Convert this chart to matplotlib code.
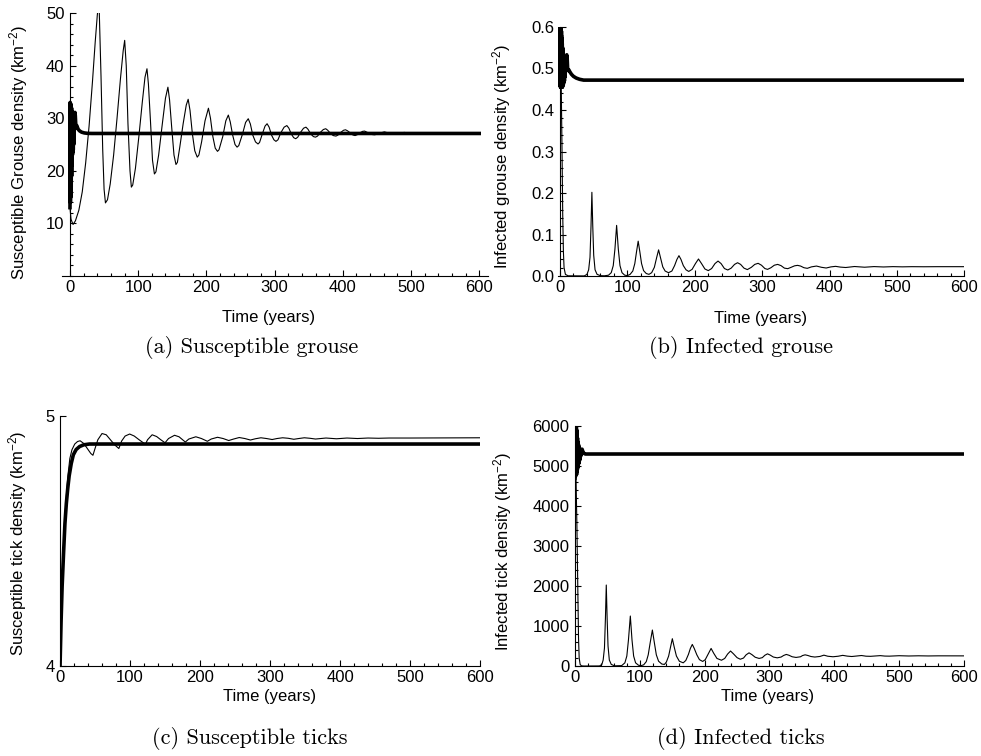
import numpy as np
import matplotlib
matplotlib.use("Agg")
import matplotlib.pyplot as plt
from matplotlib.ticker import MultipleLocator, FormatStrFormatter, FixedLocator

plt.rcParams['font.family'] = ['Liberation Sans', 'DejaVu Sans']
plt.rcParams['mathtext.fontset'] = 'custom'
plt.rcParams['mathtext.rm'] = 'Liberation Sans'
plt.rcParams['mathtext.it'] = 'Liberation Sans:italic'
plt.rcParams['mathtext.bf'] = 'Liberation Sans:bold'

# (a) susceptible grouse, (time, density)
sg_thin = [(0, 13.0), (1.5, 10.8), (4.5, 9.8), (8, 10.5), (13, 12.5), (18, 16), (23, 21.5), (28, 28.5),
           (33, 37), (37, 44.5), (40, 49.5), (41.5, 51.5), (43, 50), (45.5, 38), (48, 24), (50, 16.5),
           (52, 13.9), (55, 14.5), (59, 17.5), (64, 23), (69, 30), (74, 37.5), (78, 42.8), (80.2, 44.8),
           (82.5, 40), (85, 29), (88, 20), (90, 16.9), (92, 17.3), (96, 20.5), (101, 26.5), (106, 33),
           (110, 37.8), (112.9, 39.4), (115, 36.5), (118, 29.5), (121, 22), (123.8, 19.4), (126, 19.8),
           (130, 23), (135, 28.5), (140, 33.8), (143.6, 35.9), (146, 33.5), (149, 28.5), (152.5, 23),
           (155.4, 21.2), (157.5, 21.6), (161, 24.5), (166, 29), (170.5, 32.5), (173.3, 33.6), (176, 31.5),
           (179.5, 27), (183, 23.8), (186.6, 22.6), (189, 23), (193, 25.5), (198, 29.5), (203, 31.9),
           (206, 30), (209.5, 26.5), (213, 24.3), (216.3, 23.7), (218.5, 24), (224, 26.5), (228.5, 29.5),
           (232.2, 30.6), (235, 29.3), (238.5, 26.8), (242, 25), (245, 24.5), (247.5, 24.8), (253, 27),
           (257.5, 29.2), (261.4, 29.9), (264.5, 28.9), (268, 26.8), (272, 25.5), (275.7, 25.1), (278, 25.4),
           (282, 27), (286, 28.5), (289, 28.95), (292, 28.3), (295.5, 26.8), (299, 25.9), (302, 25.6),
           (305, 25.9), (309, 27.2), (314, 28.3), (318, 28.6), (321, 28.1), (324.5, 27), (328, 26.3),
           (331, 26.1), (334, 26.4), (338, 27.3), (342.5, 28.1), (346, 28.3), (349, 27.9), (353, 27),
           (357, 26.5), (360, 26.4), (363, 26.6), (367, 27.3), (371.5, 27.85), (375, 28.0), (378, 27.7),
           (382, 27.1), (386, 26.7), (390, 26.6), (393, 26.8), (397, 27.3), (401, 27.7), (404, 27.8),
           (407, 27.6), (411, 27.2), (415, 26.8), (418, 26.7), (421, 26.85), (425, 27.2), (429, 27.5),
           (432, 27.55), (436, 27.3), (440, 27.0), (444, 26.88), (447, 26.85), (454, 27.15), (461, 27.4),
           (468, 27.15), (476, 26.95), (483, 27.1), (490, 27.3), (497, 27.15), (505, 27.0), (512, 27.12),
           (519, 27.25), (526, 27.15), (534, 27.05), (541, 27.12), (548, 27.2), (556, 27.14), (563, 27.08),
           (570, 27.12), (577, 27.16), (585, 27.12), (592, 27.1), (600, 27.12)]
sg_thick = [(0, 13), (0.3, 33), (0.6, 14), (0.9, 32.8), (1.2, 15), (1.5, 32.5), (1.8, 17), (2.1, 32),
            (2.4, 19), (2.7, 31.5), (3.0, 21), (3.3, 31), (3.6, 23), (3.9, 30.5), (4.2, 23.5), (4.5, 30),
            (4.8, 24), (5.1, 29.5), (5.4, 25), (5.8, 29), (6.2, 28.5), (6.8, 30.5), (7.3, 31.1), (7.8, 30.5),
            (8.4, 29), (9.2, 28.2), (10, 28.6), (10.8, 28.3), (12, 27.9), (14, 27.6), (17, 27.35),
            (21, 27.2), (26, 27.12), (32, 27.1), (600, 27.1)]

# (b) infected grouse
ig_thin = [(0, 0.62), (1.5, 0.5), (3, 0.3), (4, 0.15), (5, 0.06), (6, 0.02), (8, 0.004), (12, 0.0005),
           (36, 0.0002), (40, 0.004), (42.5, 0.015), (44.5, 0.045), (46, 0.12), (47.3, 0.2017), (48.6, 0.12),
           (50, 0.05), (52, 0.015), (55, 0.004), (60, 0.0008), (66, 0.0005), (72, 0.002), (76, 0.008),
           (79, 0.025), (81.5, 0.065), (84, 0.122), (86.5, 0.065), (89, 0.025), (92, 0.008), (96, 0.002),
           (100, 0.001), (104, 0.004), (108, 0.012), (111, 0.03), (113.5, 0.058), (116, 0.084),
           (118.5, 0.058), (121, 0.03), (124, 0.013), (128, 0.006), (132, 0.004), (136, 0.008),
           (140, 0.021), (143.5, 0.045), (146.3, 0.063), (149, 0.045), (152.5, 0.022), (156, 0.012),
           (161, 0.008), (166, 0.012), (170, 0.025), (173.5, 0.04), (176.5, 0.049), (179.5, 0.04),
           (183, 0.025), (187, 0.015), (191, 0.011), (196, 0.016), (201, 0.03), (205.5, 0.041),
           (210, 0.03), (215, 0.017), (220, 0.013), (225, 0.018), (230, 0.03), (234.5, 0.036),
           (239, 0.03), (244, 0.018), (249, 0.0145), (254, 0.019), (259, 0.028), (263.5, 0.032),
           (268, 0.028), (273, 0.019), (278, 0.0155), (284, 0.021), (289, 0.028), (294, 0.0306),
           (299, 0.026), (304, 0.018), (308, 0.016), (313, 0.02), (318, 0.026), (323, 0.028), (328, 0.025),
           (333, 0.019), (338, 0.0177), (343, 0.021), (348, 0.0245), (352.5, 0.0257), (357, 0.024),
           (362, 0.02), (367, 0.0185), (373, 0.022), (380.6, 0.024), (388, 0.021), (395, 0.0193),
           (402, 0.022), (409, 0.0233), (416, 0.0215), (424, 0.0205), (437, 0.0229), (452, 0.0212),
           (466, 0.0227), (480, 0.0218), (494, 0.0226), (508, 0.0221), (522, 0.0225), (540, 0.0223),
           (560, 0.0225), (600, 0.0225)]
ig_thick = [(0, 0.46), (0.3, 0.61), (0.6, 0.455), (0.9, 0.61), (1.2, 0.455), (1.5, 0.6), (1.8, 0.455),
            (2.1, 0.59), (2.4, 0.455), (2.7, 0.575), (3.0, 0.455), (3.3, 0.56), (3.6, 0.455), (3.9, 0.55),
            (4.2, 0.46), (4.5, 0.54), (4.8, 0.46), (5.2, 0.53), (5.6, 0.465), (6.0, 0.52), (6.5, 0.47),
            (7, 0.515), (7.5, 0.48), (8, 0.51), (8.7, 0.5), (9.4, 0.525), (10, 0.533), (10.6, 0.525),
            (11.3, 0.5), (12, 0.495), (13, 0.497), (14.6, 0.492), (17, 0.486), (20, 0.481), (24, 0.477),
            (29, 0.474), (35, 0.472), (600, 0.472)]

# (c) susceptible ticks
st_thin = [(0, 4.0), (2, 4.22), (4, 4.4), (6, 4.53), (8, 4.64), (10, 4.72), (12, 4.78), (14, 4.83),
           (17, 4.865), (21, 4.888), (25, 4.898), (28.7, 4.901), (34, 4.89), (40, 4.866), (44, 4.85),
           (47, 4.843), (50, 4.87), (54, 4.905), (60, 4.93), (66, 4.925), (72, 4.905), (78, 4.885),
           (84, 4.87), (88, 4.9), (93, 4.92), (99.5, 4.928), (106, 4.92), (113, 4.905), (122, 4.887),
           (125, 4.905), (131.6, 4.925), (138, 4.918), (144, 4.905), (150, 4.893), (155, 4.91),
           (163.6, 4.923), (170, 4.917), (179, 4.896), (184, 4.908), (194, 4.917), (202, 4.91),
           (210.5, 4.899), (216, 4.908), (225, 4.915), (233, 4.91), (241, 4.902), (248, 4.908),
           (256, 4.914), (264, 4.91), (272, 4.904), (279, 4.909), (287, 4.913), (295, 4.91), (303, 4.906),
           (310, 4.91), (318, 4.913), (326, 4.911), (334, 4.907), (341, 4.91), (349, 4.913), (357, 4.911),
           (365, 4.908), (380, 4.912), (395, 4.909), (410, 4.912), (425, 4.91), (440, 4.912),
           (455, 4.911), (470, 4.912), (500, 4.912), (600, 4.913)]
st_thick = [(0, 4.0), (1.5, 4.18), (3, 4.32), (5, 4.45), (7, 4.57), (9, 4.65), (11, 4.71), (13, 4.76),
            (16, 4.81), (19, 4.845), (23, 4.866), (28, 4.878), (34, 4.885), (42, 4.888), (600, 4.888)]

# (d) infected ticks
it_thin = [(0, 5200), (1.5, 4800), (3, 3500), (4.5, 1800), (5.5, 700), (6.5, 200), (8, 40), (10, 5),
           (14, 0), (38, 2), (41.5, 40), (43.5, 150), (45.5, 450), (47, 1200), (48.3, 2025), (49.6, 1200),
           (51, 500), (53, 150), (56, 40), (61, 5), (72, 10), (77, 80), (80, 250), (82.5, 650),
           (85.4, 1250), (88, 650), (90.5, 250), (93.5, 80), (98, 20), (102, 10), (106, 30), (110, 110),
           (113, 280), (116, 580), (119.4, 900), (122.5, 580), (125.5, 280), (129, 120), (134, 50),
           (138, 40), (141, 100), (144.5, 250), (147.5, 480), (150.2, 683), (153, 480), (156.5, 250),
           (161, 120), (167, 80), (171, 140), (175, 290), (178, 440), (181, 540), (184, 440), (188, 280),
           (192, 160), (197, 115), (201, 160), (205.5, 300), (210, 440), (214, 320), (219, 190),
           (226, 145), (231, 190), (235.5, 300), (240, 375), (244.5, 305), (250, 210), (255, 170),
           (260, 200), (264, 280), (268.5, 330), (273, 285), (278, 220), (284, 190), (289, 210),
           (293, 270), (297, 305), (301, 275), (306, 225), (312, 205), (318, 225), (322, 265), (326, 290),
           (330, 270), (335, 232), (341, 215), (348, 232), (351, 262), (355, 280), (359, 265), (364, 238),
           (370, 225), (378, 240), (384, 272), (390, 245), (398, 232), (406, 245), (413, 267), (420, 248),
           (427, 238), (442, 263), (449, 246), (456, 243), (471, 260), (478, 249), (485, 247), (500, 258),
           (515, 251), (530, 256), (545, 252), (560, 255), (600, 254)]
it_thick = [(0, 4700), (0.3, 6100), (0.6, 4750), (0.9, 6100), (1.2, 4750), (1.5, 6050), (1.8, 4800),
            (2.1, 6000), (2.4, 4800), (2.7, 5900), (3.0, 4850), (3.3, 5800), (3.6, 4900), (3.9, 5700),
            (4.2, 4950), (4.5, 5600), (4.8, 5000), (5.2, 5550), (5.6, 5050), (6, 5500), (6.5, 5100),
            (7, 5450), (7.5, 5150), (8, 5400), (9, 5250), (10, 5380), (11, 5420), (12, 5370),
            (13.5, 5320), (16, 5300), (600, 5300)]

x_ticks = [0, 100, 200, 300, 400, 500, 600]
captions = ["(a) Susceptible grouse", "(b) Infected grouse", "(c) Susceptible ticks", "(d) Infected ticks"]
ylabels = ["Susceptible Grouse density (km$^{-2}$)", "Infected grouse density (km$^{-2}$)",
           "Susceptible tick density (km$^{-2}$)", "Infected tick density (km$^{-2}$)"]

fig = plt.figure(figsize=(9.81, 7.56), dpi=100)


def draw(rect, thin, thick, xlim, ylim, yticks, yminor, ylabel, lab_xy, xlab_xy, fmt):
    ax = fig.add_axes(rect)
    t, v = np.array(thin).T
    ax.plot(t, v, color='black', lw=0.8)
    t, v = np.array(thick).T
    ax.plot(t, v, color='black', lw=2.6)
    ax.set_xlim(*xlim)
    ax.set_ylim(*ylim)
    ax.spines['top'].set_visible(False)
    ax.spines['right'].set_visible(False)
    ax.spines['left'].set_position(('data', 0))
    for s in ['left', 'bottom']:
        ax.spines[s].set_linewidth(0.8)
    ax.xaxis.set_major_locator(FixedLocator(x_ticks))
    ax.xaxis.set_minor_locator(MultipleLocator(20))
    ax.yaxis.set_major_locator(FixedLocator(yticks))
    if yminor:
        ax.yaxis.set_minor_locator(MultipleLocator(yminor))
    ax.yaxis.set_major_formatter(FormatStrFormatter(fmt))
    ax.tick_params(which='both', direction='in', labelsize=12, width=0.8)
    ax.tick_params(which='major', length=4)
    ax.tick_params(which='minor', length=2.2)
    ax.tick_params(axis='y', pad=4)
    ax.tick_params(axis='x', pad=3)
    ax.set_ylabel(ylabel, fontsize=12)
    ax.yaxis.set_label_coords(*lab_xy)
    ax.set_xlabel("Time (years)", fontsize=12)
    ax.xaxis.set_label_coords(*xlab_xy)
    return ax


draw([0.0632, 0.6349, 0.4343, 0.3479], sg_thin, sg_thick, (-11.7, 613), (0, 50),
     [10, 20, 30, 40, 50], 2, ylabels[0], (-0.076, 0.47), (0.486, -0.13), '%d')
draw([0.5688, 0.6349, 0.4142, 0.3294], ig_thin, ig_thick, (-3, 600), (0, 0.6),
     [0.0, 0.1, 0.2, 0.3, 0.4, 0.5, 0.6], 0.02, ylabels[1], (-0.110, 0.478), (0.4975, -0.14), '%.1f')
draw([0.0612, 0.1190, 0.4281, 0.3307], st_thin, st_thick, (0, 600), (4, 5),
     [4, 5], None, ylabels[2], (-0.073, 0.49), (0.5, -0.09), '%d')
draw([0.5861, 0.1190, 0.3965, 0.3175], it_thin, it_thick, (0, 600), (0, 6000),
     [0, 1000, 2000, 3000, 4000, 5000, 6000], 200, ylabels[3], (-0.158, 0.475), (0.496, -0.094), '%d')

cap_pos = [(252, 348), (741, 348), (250, 738), (741, 738)]
for (px, py), c in zip(cap_pos, captions):
    fig.text(px / 981, 1 - py / 756, c, family='cmr10', fontsize=16, ha='center', va='center')

fig.savefig("out.png", dpi=100)
